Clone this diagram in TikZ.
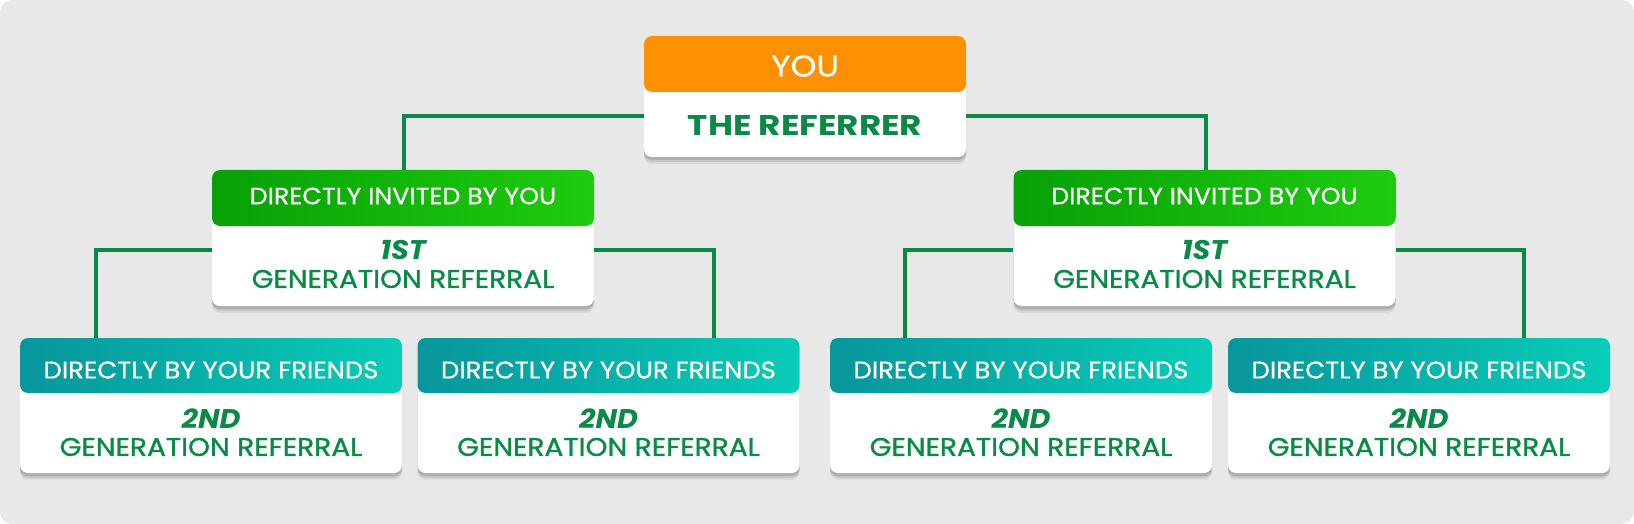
\documentclass[tikz,border=0pt]{standalone}
\usepackage{fontspec}
\setmainfont{Poppins}
\newfontfamily\hdrfont{Poppins}[FakeStretch=1.08, FakeBold=0.6]
\newfontfamily\youfont{Poppins}[FakeStretch=1.1, FakeBold=0.6]
\newfontfamily\genfont{Poppins}[FakeStretch=1.1, FakeBold=1.3]
\newfontfamily\reffont{Poppins}[FakeStretch=1.2]
\newfontfamily\ordfont{Poppins}[FakeStretch=1.06]
\usetikzlibrary{shadows,calc}
\definecolor{bggray}{HTML}{E8E8E8}
\definecolor{orng}{HTML}{FF9000}
\definecolor{txtgreen}{HTML}{0B8A47}
\definecolor{lngreen}{HTML}{078A45}
\definecolor{gA}{HTML}{08A008}
\definecolor{gB}{HTML}{1ECC0E}
\definecolor{tA}{HTML}{08969C}
\definecolor{tB}{HTML}{08CDB8}
\tikzset{
  card/.style={rectangle, rounded corners=8pt, fill=white, inner sep=0pt,
    minimum width=382pt, minimum height=136pt,
    drop shadow={shadow xshift=0pt, shadow yshift=-7pt, opacity=0.06, fill=black},
    drop shadow={shadow xshift=0pt, shadow yshift=-5pt, opacity=0.09, fill=black},
    drop shadow={shadow xshift=0pt, shadow yshift=-3pt, opacity=0.12, fill=black}},
  topcard/.style={card, minimum width=322pt, minimum height=121pt,
    path picture={\fill[orng] (path picture bounding box.north west) rectangle ([yshift=-56pt]path picture bounding box.north east);}},
  greencard/.style={card,
    path picture={\fill[left color=gA, right color=gB] (path picture bounding box.north west) rectangle ([yshift=-56pt]path picture bounding box.north east);}},
  tealcard/.style={card, minimum height=135pt,
    path picture={\fill[left color=tA, right color=tB] (path picture bounding box.north west) rectangle ([yshift=-55pt]path picture bounding box.north east);}},
  hdr/.style={text=white, inner sep=0pt, font=\hdrfont\fontsize{23.5}{25}\selectfont},
  gen/.style={text=txtgreen, inner sep=0pt, font=\genfont\fontsize{25.5}{27}\selectfont},
  ord/.style={text=txtgreen, inner sep=0pt, font=\ordfont\fontsize{27}{29}\selectfont\bfseries\itshape},
  link/.style={draw=lngreen, line width=4pt}
}
\begin{document}
\begin{tikzpicture}[x=1pt,y=-1pt]
\useasboundingbox (0,0) rectangle (1634,524);
\fill[bggray, rounded corners=12pt] (0,0) rectangle (1634,524);
% boxes
\node[topcard] (top) at (805,96.5) {};
\node[greencard] (l2a) at (403,238) {};
\node[greencard] (l2b) at (1204.5,238) {};
\node[tealcard] (l3a) at (211,405.5) {};
\node[tealcard] (l3b) at (608.5,405.5) {};
\node[tealcard] (l3c) at (1021,405.5) {};
\node[tealcard] (l3d) at (1419,405.5) {};
% texts
\node[hdr, font=\youfont\fontsize{30}{32}\selectfont] (topH) at (805,66) {YOU};
\node[gen, font=\reffont\fontsize{28.5}{30}\selectfont\bfseries] (topT) at (805,125) {THE REFERRER};
\foreach \n/\x in {l2a/403, l2b/1204.5}{
  \node[hdr] (\n H) at (\x,196) {DIRECTLY INVITED BY YOU};
  \node[ord] (\n O) at (\x,250) {1ST};
  \node[gen] (\n G) at (\x,279) {GENERATION REFERRAL};
}
\foreach \n/\x in {l3a/211, l3b/608.5, l3c/1021, l3d/1419}{
  \node[hdr, font=\hdrfont\fontsize{24}{26}\selectfont] (\n H) at (\x,370) {DIRECTLY BY YOUR FRIENDS};
  \node[ord] (\n O) at (\x,419) {2ND};
  \node[gen] (\n G) at (\x,447) {GENERATION REFERRAL};
}
% connectors
\draw[link] ([yshift=-19.5pt]top.west) -| ([xshift=1pt]l2a.north);
\draw[link] ([yshift=-19.5pt]top.east) -| ([xshift=1.5pt]l2b.north);
\draw[link] ([yshift=-12pt]l2a.west) -| ([xshift=-115pt]l3a.north);
\draw[link] ([yshift=-12pt]l2a.east) -| ([xshift=105.5pt]l3b.north);
\draw[link] ([yshift=-12pt]l2b.west) -| ([xshift=-116pt]l3c.north);
\draw[link] ([yshift=-12pt]l2b.east) -| ([xshift=105pt]l3d.north);
\end{tikzpicture}
\end{document}
